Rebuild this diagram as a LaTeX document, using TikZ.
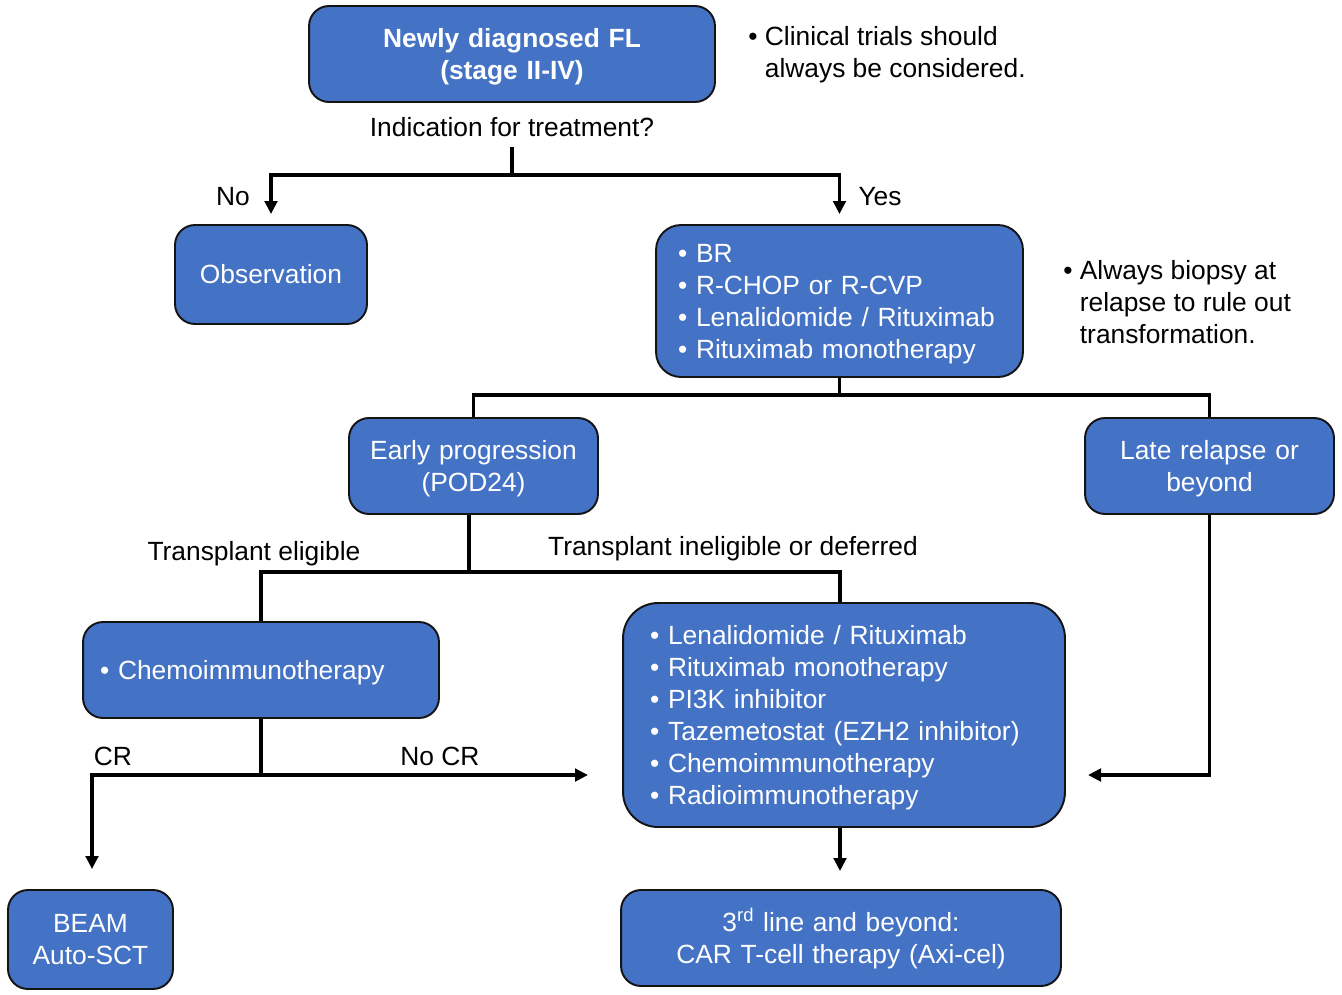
\documentclass[tikz,border=0pt]{standalone}
\usepackage{fontspec}
\setmainfont{Liberation Sans}
\usepackage{xcolor}
\usetikzlibrary{arrows.meta,positioning}

\definecolor{flblue}{RGB}{68,114,196}
\definecolor{flline}{RGB}{20,20,20}

\tikzset{
  stepbox/.style={draw=flline, line width=1.1pt, fill=flblue, text=white,
    rounded corners=0.4cm, align=center, inner ysep=0pt, inner xsep=0.1cm,
    execute at begin node={\rule{0pt}{0.9em}},
    execute at end node={\rule[-0.21em]{0pt}{0.21em}}},
  listbox/.style={stepbox, align=left},
  note/.style={align=left, inner sep=0pt, text=black},
  lbl/.style={inner sep=0pt, text=black},
  flow/.style={draw=black, line width=1.9pt},
  flowarrow/.style={flow, -{Triangle[length=0.26cm, width=0.25cm]}}
}

\begin{document}
\begin{tikzpicture}[x=0.02cm, y=-0.02cm,
  every node/.style={font=\fontsize{15}{18.2}\selectfont}]
  \useasboundingbox (0,0) rectangle (1342,994);

  % Draw the boxes
  \node[stepbox, text width=7.92cm, minimum height=1.92cm,
    font=\fontsize{15}{18.2}\selectfont\bfseries] (fl) at (512,54)
    {Newly diagnosed FL\\(stage II-IV)};
  \node[stepbox, text width=3.64cm, minimum height=1.98cm] (obs) at (271,274.5)
    {Observation};
  \node[listbox, rounded corners=0.5cm, text width=6.46cm, inner xsep=0.44cm,
    minimum height=3.04cm] (first) at (839.5,301)
    {• BR\\• R-CHOP or R-CVP\\• Lenalidomide / Rituximab\\• Rituximab monotherapy};
  \node[stepbox, text width=4.78cm, minimum height=1.92cm] (early) at (473.5,466)
    {Early progression\\(POD24)};
  \node[stepbox, text width=4.78cm, minimum height=1.92cm] (late) at (1209.5,466)
    {Late relapse or\\beyond};
  \node[listbox, text width=6.44cm, inner xsep=0.34cm,
    minimum height=1.92cm] (chemo) at (261,670)
    {• Chemoimmunotherapy};
  \node[listbox, rounded corners=0.7cm, text width=7.76cm, inner xsep=0.54cm,
    minimum height=4.48cm] (second) at (844,715)
    {• Lenalidomide / Rituximab\\• Rituximab monotherapy\\• PI3K inhibitor\\%
     • Tazemetostat (EZH2 inhibitor)\\• Chemoimmunotherapy\\• Radioimmunotherapy};
  \node[stepbox, text width=3.10cm, minimum height=1.98cm] (beam) at (90.5,939.5)
    {BEAM\\Auto-SCT};
  \node[stepbox, text width=8.60cm, minimum height=1.92cm] (cart) at (841,938)
    {3\textsuperscript{rd} line and beyond:\\CAR T-cell therapy (Axi-cel)};

  % Side notes
  \node[note, anchor=west] (trials) at (748,54.5)
    {• Clinical trials should\\\hphantom{• }always be considered.};
  \node[note, anchor=west] (biopsy) at (1063,302)
    {• Always biopsy at\\\hphantom{• }relapse to rule out\\\hphantom{• }transformation.};

  % Labels on the branches
  \node[lbl] (ask) at (512,127) {Indication for treatment?};
  \node[lbl] (no) at (233,197) {No};
  \node[lbl] (yes) at (880,197) {Yes};
  \node[lbl] (elig) at (254,554) {Transplant eligible};
  \node[lbl] (inelig) at (733,549) {Transplant ineligible or deferred};
  \node[lbl] (cr) at (113,756) {CR};
  \node[lbl] (nocr) at (440,756) {No CR};

  % Branch points
  \coordinate (split1) at (512,175);
  \coordinate (split2) at (839.5,395);
  \coordinate (split3) at (469,572);
  \coordinate (split4) at (261,775);
  \coordinate (nocrend) at (588,775);
  \coordinate (lateend) at (1088,775);

  % Draw the connectors
  \draw[flow] ([yshift=-0.2cm]ask.south) -- (split1);
  \draw[flowarrow, shorten >=0.2cm] (split1) -| (obs.north);
  \draw[flowarrow, shorten >=0.2cm] (split1) -| (first.north);

  \draw[flow] (first.south) -- (split2);
  \draw[flow] (split2) -| (early.north);
  \draw[flow] (split2) -| (late.north);

  \draw[flow] (early.south -| split3) -- (split3);
  \draw[flow] (split3) -| (chemo.north);
  \draw[flow] (split3) -| (second.north -| 840,0);

  \draw[flow] (chemo.south) -- (split4);
  \draw[flowarrow] (split4) -- (nocrend);
  \draw[flowarrow, shorten >=0.4cm] (split4) -| (beam.north -| 92,0);
  \draw[flowarrow] (late.south) |- (lateend);

  \draw[flowarrow, shorten >=0.36cm] (second.south -| 840,0) -- (cart.north -| 840,0);
\end{tikzpicture}
\end{document}
